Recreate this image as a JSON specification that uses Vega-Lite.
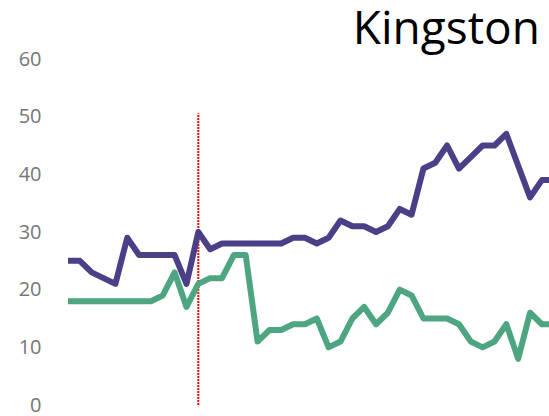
{
  "$schema": "https://vega.github.io/schema/vega-lite/v6.json",
  "autosize": {"type": "none"},
  "padding": {"left": 68, "top": 59, "right": 0, "bottom": 11},
  "width": 481,
  "height": 346,
  "background": "white",
  "config": {"view": {"stroke": null}},
  "title": {
    "text": "Kingston",
    "anchor": "end",
    "frame": "group",
    "font": "Open Sans",
    "fontSize": 46,
    "fontWeight": "normal",
    "color": "#000000",
    "offset": 14,
    "dx": -9,
    "dy": 19
  },
  "datasets": {
    "series": [
      {"i": 0, "s": "A", "v": 25}, {"i": 1, "s": "A", "v": 25}, {"i": 2, "s": "A", "v": 23}, {"i": 3, "s": "A", "v": 22},
      {"i": 4, "s": "A", "v": 21}, {"i": 5, "s": "A", "v": 29}, {"i": 6, "s": "A", "v": 26}, {"i": 7, "s": "A", "v": 26},
      {"i": 8, "s": "A", "v": 26}, {"i": 9, "s": "A", "v": 26}, {"i": 10, "s": "A", "v": 21}, {"i": 11, "s": "A", "v": 30},
      {"i": 12, "s": "A", "v": 27}, {"i": 13, "s": "A", "v": 28}, {"i": 14, "s": "A", "v": 28}, {"i": 15, "s": "A", "v": 28},
      {"i": 16, "s": "A", "v": 28}, {"i": 17, "s": "A", "v": 28}, {"i": 18, "s": "A", "v": 28}, {"i": 19, "s": "A", "v": 29},
      {"i": 20, "s": "A", "v": 29}, {"i": 21, "s": "A", "v": 28}, {"i": 22, "s": "A", "v": 29}, {"i": 23, "s": "A", "v": 32},
      {"i": 24, "s": "A", "v": 31}, {"i": 25, "s": "A", "v": 31}, {"i": 26, "s": "A", "v": 30}, {"i": 27, "s": "A", "v": 31},
      {"i": 28, "s": "A", "v": 34}, {"i": 29, "s": "A", "v": 33}, {"i": 30, "s": "A", "v": 41}, {"i": 31, "s": "A", "v": 42},
      {"i": 32, "s": "A", "v": 45}, {"i": 33, "s": "A", "v": 41}, {"i": 34, "s": "A", "v": 43}, {"i": 35, "s": "A", "v": 45},
      {"i": 36, "s": "A", "v": 45}, {"i": 37, "s": "A", "v": 47}, {"i": 38, "s": "A", "v": 41.5}, {"i": 39, "s": "A", "v": 36},
      {"i": 40, "s": "A", "v": 39}, {"i": 41, "s": "A", "v": 39},
      {"i": 0, "s": "B", "v": 18}, {"i": 1, "s": "B", "v": 18}, {"i": 2, "s": "B", "v": 18}, {"i": 3, "s": "B", "v": 18},
      {"i": 4, "s": "B", "v": 18}, {"i": 5, "s": "B", "v": 18}, {"i": 6, "s": "B", "v": 18}, {"i": 7, "s": "B", "v": 18},
      {"i": 8, "s": "B", "v": 19}, {"i": 9, "s": "B", "v": 23}, {"i": 10, "s": "B", "v": 17}, {"i": 11, "s": "B", "v": 21},
      {"i": 12, "s": "B", "v": 22}, {"i": 13, "s": "B", "v": 22}, {"i": 14, "s": "B", "v": 26}, {"i": 15, "s": "B", "v": 26},
      {"i": 16, "s": "B", "v": 11}, {"i": 17, "s": "B", "v": 13}, {"i": 18, "s": "B", "v": 13}, {"i": 19, "s": "B", "v": 14},
      {"i": 20, "s": "B", "v": 14}, {"i": 21, "s": "B", "v": 15}, {"i": 22, "s": "B", "v": 10}, {"i": 23, "s": "B", "v": 11},
      {"i": 24, "s": "B", "v": 15}, {"i": 25, "s": "B", "v": 17}, {"i": 26, "s": "B", "v": 14}, {"i": 27, "s": "B", "v": 16},
      {"i": 28, "s": "B", "v": 20}, {"i": 29, "s": "B", "v": 19}, {"i": 30, "s": "B", "v": 15}, {"i": 31, "s": "B", "v": 15},
      {"i": 32, "s": "B", "v": 15}, {"i": 33, "s": "B", "v": 14}, {"i": 34, "s": "B", "v": 11}, {"i": 35, "s": "B", "v": 10},
      {"i": 36, "s": "B", "v": 11}, {"i": 37, "s": "B", "v": 14}, {"i": 38, "s": "B", "v": 8}, {"i": 39, "s": "B", "v": 16},
      {"i": 40, "s": "B", "v": 14}, {"i": 41, "s": "B", "v": 14}
    ],
    "marker": [{"i": 11, "lo": 0, "hi": 50.6}]
  },
  "layer": [
    {
      "data": {"name": "marker"},
      "mark": {"type": "rule", "color": "#FF0000", "strokeWidth": 2, "strokeDash": [2, 1]},
      "encoding": {
        "x": {"field": "i", "type": "quantitative", "scale": {"domain": [0, 40.6], "nice": false, "zero": false}, "axis": null},
        "y": {"field": "lo", "type": "quantitative", "scale": {"domain": [0, 60], "nice": false}},
        "y2": {"field": "hi"}
      }
    },
    {
      "data": {"name": "series"},
      "mark": {"type": "line", "strokeWidth": 6, "clip": true, "strokeJoin": "round", "strokeCap": "butt"},
      "encoding": {
        "x": {"field": "i", "type": "quantitative", "axis": null},
        "y": {
          "field": "v", "type": "quantitative", "title": null,
          "axis": {
            "values": [0, 10, 20, 30, 40, 50, 60],
            "domain": false, "ticks": false, "grid": false,
            "labelFont": "Open Sans", "labelFontSize": 20, "labelColor": "#767676",
            "labelPadding": 27
          }
        },
        "color": {
          "field": "s", "type": "nominal", "legend": null,
          "scale": {"domain": ["A", "B"], "range": ["#4C3F87", "#4DA582"]}
        }
      }
    }
  ]
}
